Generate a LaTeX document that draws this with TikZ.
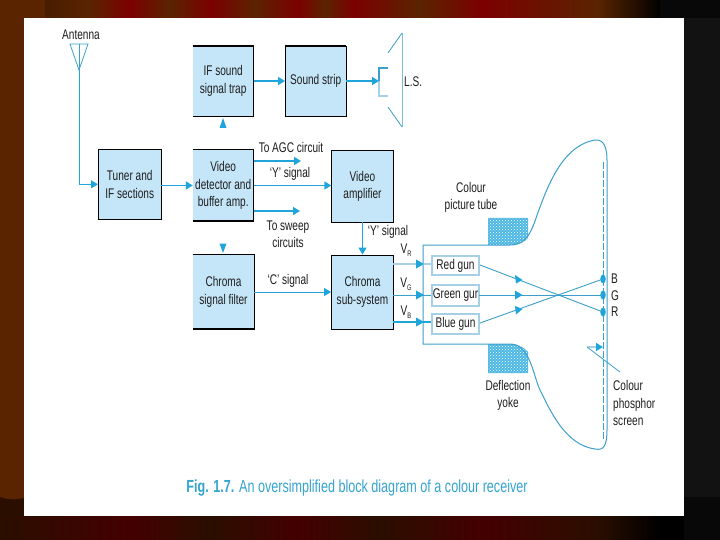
\documentclass[tikz,border=0pt]{standalone}
\usepackage{fontspec}
\setmainfont[FakeStretch=0.72]{Liberation Sans}
\usetikzlibrary{arrows.meta,patterns,shapes.geometric}
\definecolor{boxfill}{HTML}{C5E6F8}
\definecolor{flow}{HTML}{1FA5DC}
\definecolor{tubeline}{HTML}{3C9FCB}
\definecolor{palebar}{HTML}{A5D0E6}
\definecolor{ink}{HTML}{1E1E1E}
\definecolor{capcol}{HTML}{35A4CF}
\definecolor{brn}{HTML}{5A2400}
\definecolor{redb}{HTML}{7C0000}
\definecolor{dbrn}{HTML}{2A0E00}
\definecolor{dred}{HTML}{440000}
\newcommand{\vsub}[1]{V\raisebox{-3.5pt}{\footnotesize #1}}
\tikzset{
  x=1pt,y=-1pt,
  txt/.style={font=\fontsize{14}{17.5}\selectfont,text=ink,align=center,inner sep=0pt},
  box/.style={fill=boxfill,draw=black,line width=0.9pt,inner sep=0pt,txt},
  openbox/.style={fill=boxfill,inner sep=0pt,txt},
  edge3/.style={draw=black,line width=0.9pt},
  flowline/.style={draw=flow,line width=1.6pt,-{Triangle[length=7pt,width=8pt]}},
  thinflow/.style={draw=flow,line width=1pt,-{Triangle[length=7pt,width=8pt]}},
  tube/.style={draw=tubeline,line width=0.8pt},
  gun/.style={draw=palebar,line width=1.3pt,fill=white,inner sep=0pt,txt},
  ray/.style={draw=tubeline,line width=0.9pt},
  dotmark/.style={ellipse,fill=flow,inner sep=0pt,minimum width=5.5pt,minimum height=9pt},
}
\begin{document}
\begin{tikzpicture}
\useasboundingbox (0,0) rectangle (720,540);
% backdrop
\fill[brn] (0,0) rectangle (720,540);
\foreach \a/\b/\ca/\cb in {0/45/brn/brn,45/90/brn!80!black/brn,90/129/brn/redb,129/170/redb/brn,170/211/brn/redb,211/255/redb/brn,255/298/brn/redb,298/325/redb/brn,325/353/brn/redb,353/420/redb/brn,420/482/brn/redb,482/597/redb/brn,597/661/brn/black,661/720/black/black!90!white}
  {\shade[left color=\ca,right color=\cb] (\a,0) rectangle (\b,18);}
\foreach \a/\b/\ca/\cb in {0/129/dbrn/dred,129/210/dred/dbrn,210/298/dbrn/dred,298/380/dred/dbrn,380/482/dbrn/dred,482/597/dred/dbrn,597/661/dbrn/black,661/720/black/black}
  {\shade[left color=\ca,right color=\cb] (\a,516) rectangle (\b,540);}
\fill[dbrn] (0,497) .. controls (8,500) and (16,500) .. (24,498) -- (24,516) -- (0,516) -- cycle;
\fill[black!93!white] (684,0) rectangle (720,540);
\fill[black!97!white] (660,0) rectangle (720,18);
\fill[black!97!white] (684,497) rectangle (720,540);
\fill[white] (24,18) rectangle (684,516);
% antenna
\node[txt] (anttext) at (81,34.5) {Antenna};
\coordinate (antL) at (70,44);
\coordinate (antR) at (88,44);
\coordinate (antT) at (79,44);
\coordinate (antB) at (79,70);
\draw[tube] (antL) -- (antR) -- (antB) -- cycle;
\draw[tube] (antT) -- (antB);
% blocks
\node[openbox,minimum width=60.5pt,minimum height=70pt] (ifs) at (223.2,81) {IF sound\\signal trap};
\node[box,minimum width=60.5pt,minimum height=70pt] (snd) at (315.7,81) {Sound strip};
\node[box,minimum width=62.5pt,minimum height=70pt] (tun) at (129.7,184.3) {Tuner and\\IF sections};
\node[openbox,minimum width=60.5pt,minimum height=71pt] (vid) at (223.2,185.5) {Video\\detector and\\buffer amp.};
\node[box,minimum width=61.5pt,minimum height=71.5pt] (amp) at (362.5,186.3) {Video\\amplifier};
\node[openbox,minimum width=61pt,minimum height=74pt] (cfl) at (223.5,292) {Chroma\\signal filter};
\node[box,minimum width=62pt,minimum height=74pt] (sub) at (362.5,292) {Chroma\\sub-system};
\draw[edge3] (ifs.north west) -- (ifs.north east) -- (ifs.south east) -- (ifs.south west);
\draw[edge3] (vid.north west) -- (vid.north east) -- (vid.south east) -- (vid.south west);
\draw[edge3] (cfl.north west) -- (cfl.north east) -- (cfl.south east) -- (cfl.south west);
\draw[black,line width=1.8pt] (ifs.north west) -- (ifs.north east);
\draw[black,line width=1.8pt] (snd.north west) -- (snd.north east);
\draw[black,line width=1.6pt] (vid.south west) -- (vid.south east);
\draw[black,line width=1.6pt] (cfl.south west) -- (cfl.south east);
\draw[black,line width=1.6pt] (sub.south west) -- (sub.south east);
% speaker
\coordinate (spkT) at (379,68);
\coordinate (spkB) at (379,96);
\coordinate (spkM) at (379,81);
\draw[tube,line width=1.1pt] (388,68) -- (spkT) -- (spkM);
\draw[draw=palebar,line width=1.3pt] (spkM) -- (spkB) -- (388,96);
\draw[tube] (388,53) -- (402,33);
\draw[tube] (388,107) -- (402,127);
\draw[draw=tubeline!70!white,line width=0.9pt] (402,33) -- (402,127);
\node[txt,anchor=west] (lstext) at (404,82) {L.S.};
% main flow
\draw[thinflow] (antB) |- (tun.west);
\draw[flowline] (ifs.east) -- (snd.west);
\draw[flowline] (snd.east) -- (spkM);
\draw[flowline] (tun.east |- vid.west) -- (vid.west);
\coordinate (agcEnd) at (301,161);
\coordinate (swpEnd) at (300,211);
\draw[flowline] (vid.east |- agcEnd) -- (agcEnd);
\draw[flowline] (vid.east) -- (amp.west |- vid.east);
\draw[flowline] (vid.east |- swpEnd) -- (swpEnd);
\draw[thinflow] (amp.south) -- (sub.north);
\draw[thinflow] (cfl.east) -- (sub.west);
% free arrow heads
\fill[flow] (219.5,128) -- (226.5,128) -- (223,118) -- cycle;
\fill[flow] (219.5,243.5) -- (226.5,243.5) -- (223,253) -- cycle;
% labels
\node[txt] (agct) at (291,147) {To AGC circuit};
\node[txt] (ysig) at (290,173.5) {‘Y’ signal};
\node[txt] (swpt) at (288,234.5) {To sweep\\circuits};
\node[txt] (csig) at (288,281) {‘C’ signal};
\node[txt] (ysig2) at (388,232) {‘Y’ signal};
\node[txt] (vrt) at (406,250) {\vsub{R}};
\node[txt] (vgt) at (406,284) {\vsub{G}};
\node[txt] (vbt) at (406,312) {\vsub{B}};
\node[txt] (pict) at (471,197.5) {Colour\\picture tube};
\node[txt] (deft) at (508,395.5) {Deflection\\yoke};
\node[txt,align=left,anchor=west] (scrt) at (613,403) {Colour\\phosphor\\screen};
% yoke
\foreach \fillstyle in {{fill=flow!80!white},{pattern=crosshatch dots,pattern color=white}}{
  \expandafter\fill\expandafter[\fillstyle] (488,218) -- (528,218) -- (528,238) .. controls (524,243) and (518,245) .. (510,245) -- (488,245) -- cycle;
  \expandafter\fill\expandafter[\fillstyle] (488,373) -- (528,373) -- (528,352) .. controls (524,347) and (518,344) .. (510,344) -- (488,344) -- cycle;
}
% tube
\draw[tube,line width=1pt] (423,245) -- (510,245) .. controls (530,245) and (533,225) .. (540,207)
  .. controls (550,180) and (565,145) .. (595,140) .. controls (604,139) and (607,148) .. (607,160)
  -- (607,430) .. controls (607,445) and (604,451) .. (595,449)
  .. controls (565,445) and (550,410) .. (540,390) .. controls (533,375) and (530,344) .. (510,344)
  -- (423,344) -- cycle;
\draw[tube,dash pattern=on 7pt off 2pt] (603,162) -- (603,440);
% guns
\node[gun,minimum width=47pt,minimum height=19pt] (red) at (455.5,265.5) {Red gun};
\node[gun,minimum width=47pt,minimum height=21pt] (grn) at (455.5,295.5) {Green gur};
\node[gun,minimum width=47pt,minimum height=20pt] (blu) at (455.5,324) {Blue gun};
\coordinate (vrs) at (393,264);
\coordinate (vgs) at (393,295);
\coordinate (vbs) at (393,322);
\draw[draw=palebar,line width=2.2pt] (vrs) -- (red.west |- vrs);
\draw[draw=tubeline,line width=1pt] (vgs) -- (grn.west |- vgs);
\draw[draw=flow,line width=2pt] (vbs) -- (blu.west |- vbs);
\fill[flow] (416,259.5) -- (424,264) -- (416,268.5) -- cycle;
\fill[flow] (416,290.5) -- (424,295) -- (416,299.5) -- cycle;
\fill[flow] (416,317.5) -- (424,322) -- (416,326.5) -- cycle;
% beams
\node[dotmark] (dotB) at (603,279) {};
\node[dotmark] (dotG) at (603,295) {};
\node[dotmark] (dotR) at (603,312) {};
\coordinate (redO) at (480,265);
\coordinate (grnO) at (479,295);
\coordinate (bluO) at (480,323);
\draw[ray] (redO) -- (dotR.center);
\draw[ray] (grnO) -- (dotG.center);
\draw[ray] (bluO) -- (dotB.center);
\fill[flow] (515,275) -- (522.5,280) -- (516,283.5) -- cycle;
\fill[flow] (515,290.5) -- (522.5,295) -- (515,299.5) -- cycle;
\fill[flow] (515,306) -- (522.5,309) -- (516,314.5) -- cycle;
\node[txt,anchor=west] (bt) at (611,279) {B};
\node[txt,anchor=west] (gt) at (611,295.5) {G};
\node[txt,anchor=west] (rt) at (611,312) {R};
% screen pointer
\coordinate (ptrA) at (587,347);
\coordinate (ptrB) at (603,347);
\coordinate (ptrC) at (620,372);
\draw[draw=palebar,line width=1.6pt,-{Triangle[length=7pt,width=8pt,color=flow]}] (ptrA) -- (ptrB);
\draw[tube] (ptrA) -- (ptrC);
% caption
\node[txt,text=capcol,font=\fontsize{17.5}{19}\selectfont] (cap) at (357,488) {\textbf{Fig. 1.7.} An oversimplified block diagram of a colour receiver};
\end{tikzpicture}
\end{document}
